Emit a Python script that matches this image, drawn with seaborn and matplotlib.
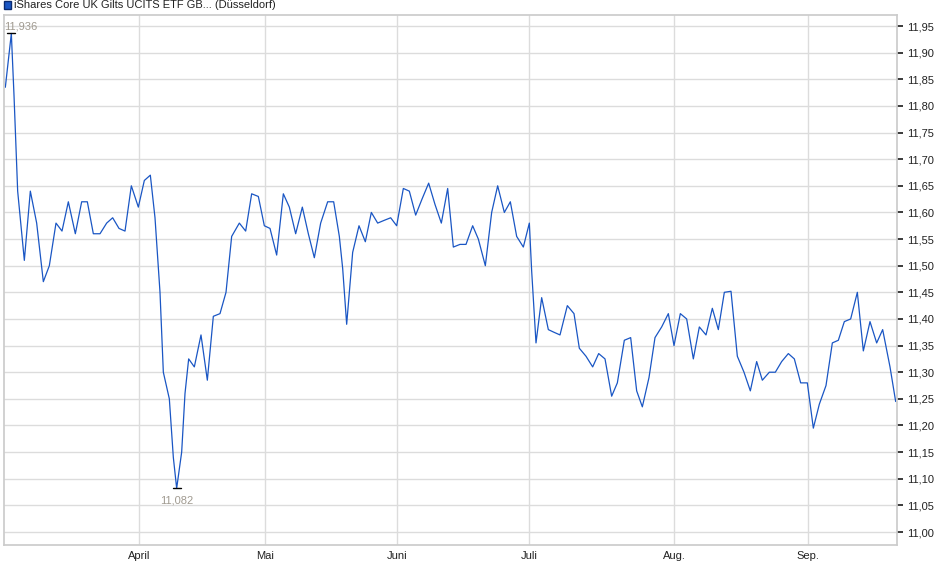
import numpy as np
import pandas as pd
import matplotlib
matplotlib.use("Agg")
import matplotlib.pyplot as plt
import seaborn as sns
from matplotlib.ticker import FuncFormatter

sns.set_theme(style="whitegrid")
plt.rcParams["font.family"] = ["Liberation Sans", "DejaVu Sans"]

# closing prices, one per trading day
prices = [
    11.835, 11.936, 11.82, 11.64, 11.51, 11.64, 11.58, 11.47, 11.50, 11.58,
    11.565, 11.62, 11.56, 11.62, 11.62, 11.56, 11.56, 11.58, 11.59, 11.57,
    11.565, 11.65, 11.61, 11.66, 11.67, 11.59, 11.45, 11.30, 11.25, 11.14,
    11.082, 11.15, 11.26, 11.325, 11.31, 11.37, 11.285, 11.405, 11.41, 11.45,
    11.555, 11.58, 11.565, 11.635, 11.63, 11.575, 11.57, 11.52, 11.635, 11.61,
    11.56, 11.61, 11.56, 11.515, 11.58, 11.62, 11.62, 11.555, 11.495, 11.39,
    11.525, 11.575, 11.545, 11.60, 11.58, 11.585, 11.59, 11.575, 11.645, 11.64,
    11.595, 11.625, 11.655, 11.615, 11.58, 11.645, 11.535, 11.54, 11.54, 11.575,
    11.55, 11.50, 11.60, 11.65, 11.60, 11.62, 11.555, 11.535, 11.58, 11.49,
    11.355, 11.44, 11.38, 11.375, 11.37, 11.425, 11.41, 11.345, 11.33, 11.31,
    11.335, 11.325, 11.255, 11.28, 11.36, 11.365, 11.265, 11.235, 11.29, 11.365,
    11.385, 11.41, 11.35, 11.41, 11.40, 11.325, 11.385, 11.37, 11.42, 11.38,
    11.45, 11.452, 11.33, 11.30, 11.265, 11.32, 11.285, 11.30, 11.30, 11.32,
    11.335, 11.325, 11.28, 11.28, 11.195, 11.24, 11.275, 11.355, 11.36, 11.395,
    11.40, 11.45, 11.34, 11.395, 11.355, 11.38, 11.31, 11.245,
]
# horizontal (time) position of each trading day
# first half in thirds of a unit, second half relative to 460 in thirds
time_a = [
    16, 34, 42, 53, 73, 91, 110, 130, 148, 168, 186, 205, 226, 245, 262, 280,
    300, 320, 338, 357, 375, 394, 415, 433, 451, 465, 480, 490, 508, 520, 530,
    545, 555, 566, 583, 603, 622, 640, 660, 678, 695, 718, 737, 755, 775, 793,
    810, 830, 850, 868, 887, 907, 925, 943, 962, 983, 1001, 1018, 1028, 1040,
    1058, 1077, 1096, 1114, 1133, 1152, 1172, 1190, 1210, 1228, 1247, 1266,
    1286, 1305, 1324, 1343, 1360, 1380,
]
time_b = [
    18, 38, 55, 76, 95, 113, 133, 151, 170, 190, 208, 215, 228, 245, 265, 282,
    300, 322, 342, 358, 378, 398, 416, 435, 455, 472, 493, 512, 530, 547, 567,
    585, 605, 625, 642, 661, 680, 700, 718, 738, 757, 775, 793, 813, 832, 852,
    871, 890, 907, 928, 946, 965, 985, 1003, 1022, 1042, 1060, 1078, 1098,
    1117, 1135, 1153, 1172, 1192, 1210, 1230, 1250, 1268, 1290, 1307,
]
month_labels = ["April", "Mai", "Juni", "Juli", "Aug.", "Sep."]
month_pos = [139, 265, 397, 529.3, 674.3, 807.7]
y_ticks = [11.00, 11.05, 11.10, 11.15, 11.20, 11.25, 11.30, 11.35, 11.40, 11.45,
           11.50, 11.55, 11.60, 11.65, 11.70, 11.75, 11.80, 11.85, 11.90, 11.95]

t = np.array([v / 3 for v in time_a] + [460 + v / 3 for v in time_b])
df = pd.DataFrame({"t": t, "price": prices})

fig = plt.figure(figsize=(9.4, 5.79), dpi=100)
ax = fig.add_axes([4 / 940, 34 / 579, 893 / 940, 530 / 579])
sns.lineplot(data=df, x="t", y="price", ax=ax, color="#1a56c4", linewidth=0.9)

ax.set_xlim(4, 897)
ax.set_ylim(10.9756, 11.9707)
ax.set_xticks(month_pos)
ax.set_xticklabels(month_labels)
ax.set_yticks(y_ticks)
ax.yaxis.tick_right()
ax.yaxis.set_major_formatter(FuncFormatter(lambda v, p: f"{v:.2f}".replace(".", ",")))
ax.tick_params(axis="both", labelsize=8, colors="#222222", length=4, pad=3)
ax.tick_params(axis="x", length=0, pad=4)
ax.grid(True, color="#dcdcdc", linewidth=1)
for s in ax.spines.values():
    s.set_color("#cccccc")
ax.set_xlabel("")
ax.set_ylabel("")

# high / low markers
i_max = int(np.argmax(prices))
i_min = int(np.argmin(prices))
for i in (i_max, i_min):
    ax.plot([t[i] - 4, t[i] + 4], [prices[i]] * 2, color="black", lw=1)
ax.annotate(f"{prices[i_max]:.3f}".replace(".", ","), (t[i_max], prices[i_max]),
            xytext=(-5, 3), textcoords="offset points", fontsize=8, color="#a09a90")
ax.annotate(f"{prices[i_min]:.3f}".replace(".", ","), (t[i_min], prices[i_min]),
            xytext=(0, -11), textcoords="offset points", fontsize=8,
            color="#a09a90", ha="center")

# legend-like header
fig.patches.append(plt.Rectangle((4 / 940, 570 / 579), 7 / 940, 8 / 579,
                                 transform=fig.transFigure, color="#1a56c4",
                                 ec="#0a2a70"))
fig.text(14 / 940, 574 / 579, "iShares Core UK Gilts UCITS ETF GB... (Düsseldorf)",
         fontsize=8, va="center", color="#222222")

fig.savefig("out.png", dpi=100, facecolor="white")
